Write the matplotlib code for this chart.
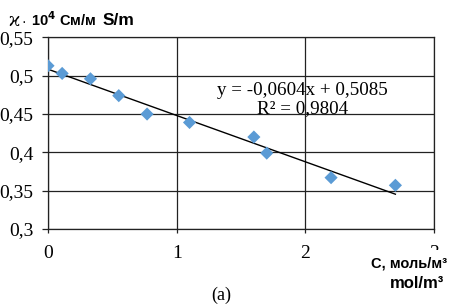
import numpy as np
import matplotlib
matplotlib.use("Agg")
import matplotlib.pyplot as plt

# concentration, mol/m3 and conductivity
conc = [0.0, 0.11, 0.33, 0.55, 0.77, 1.1, 1.6, 1.7, 2.2, 2.7]
kappa = [0.513, 0.503, 0.496, 0.474, 0.450, 0.439, 0.420, 0.399, 0.367, 0.357]
slope, intercept = -0.0604, 0.5085
x_ticks = [0, 1, 2, 3]
y_ticks = [0.3, 0.35, 0.4, 0.45, 0.5, 0.55]
y_ticklabels = ["0,3", "0,35", "0,4", "0,45", "0,5", "0,55"]

W, H = 457, 304
fig = plt.figure(figsize=(W / 100, H / 100), dpi=100)
ax = fig.add_axes([48 / W, 1 - 229 / H, (434 - 48) / W, (229 - 37.4) / H])

ax.set_xlim(0, 3)
ax.set_ylim(0.3, 0.55)
ax.set_xticks(x_ticks)
ax.set_yticks(y_ticks)
ax.set_yticklabels(y_ticklabels)
ax.grid(True, color="#222222", linewidth=0.9)
ax.set_axisbelow(True)
for s in ax.spines.values():
    s.set_color("#222222")
    s.set_linewidth(0.9)
ax.tick_params(axis="y", length=4.3, width=0.9, color="#222222", labelsize=14, pad=6.3)
ax.tick_params(axis="x", length=3, width=0.9, color="#222222", labelsize=14, pad=8.5)
for lab in ax.get_xticklabels() + ax.get_yticklabels():
    lab.set_family("Liberation Serif")

xl = np.array([0, 2.7])
ax.plot(xl, slope * xl + intercept, color="black", linewidth=1.0, zorder=3)
ax.scatter(conc, kappa, marker="D", s=45, color="#5b9bd5", zorder=4, edgecolors="none")

ax.text(1.98, 0.469, "y = -0,0604x + 0,5085\nR² = 0,9804", ha="center", va="center",
        fontsize=13.7, family="Liberation Serif", linespacing=1.05, zorder=5)

def fx(px):
    return px / W

def fy(py):
    return 1 - py / H

fig.text(fx(8), fy(26), "ϰ", fontsize=13, va="baseline", family="DejaVu Serif")
fig.text(fx(21), fy(26), "·", fontsize=10, va="baseline", family="Liberation Sans")
fig.text(fx(31), fy(26), "10$^{\\mathbf{4}}$ См/м", fontsize=10.5, va="baseline", weight="bold",
         family="Liberation Sans")
fig.text(fx(103), fy(25), "S/m", fontsize=12.5, va="baseline", weight="bold", family="Liberation Sans")

# axis title box hides most of the last tick label, as in the original
fig.text(fx(447), fy(264), "С, моль/м³", fontsize=10.5, ha="right", va="center", weight="bold",
         family="Liberation Sans",
         bbox=dict(facecolor="white", edgecolor="none", pad=5))
fig.text(fx(444), fy(284), "mol/m³", fontsize=12, ha="right", va="center", weight="bold",
         family="Liberation Sans")
fig.text(fx(221), fy(295), "(a)", fontsize=13, ha="center", va="center", family="Liberation Serif")

fig.savefig("out.png", dpi=100)
